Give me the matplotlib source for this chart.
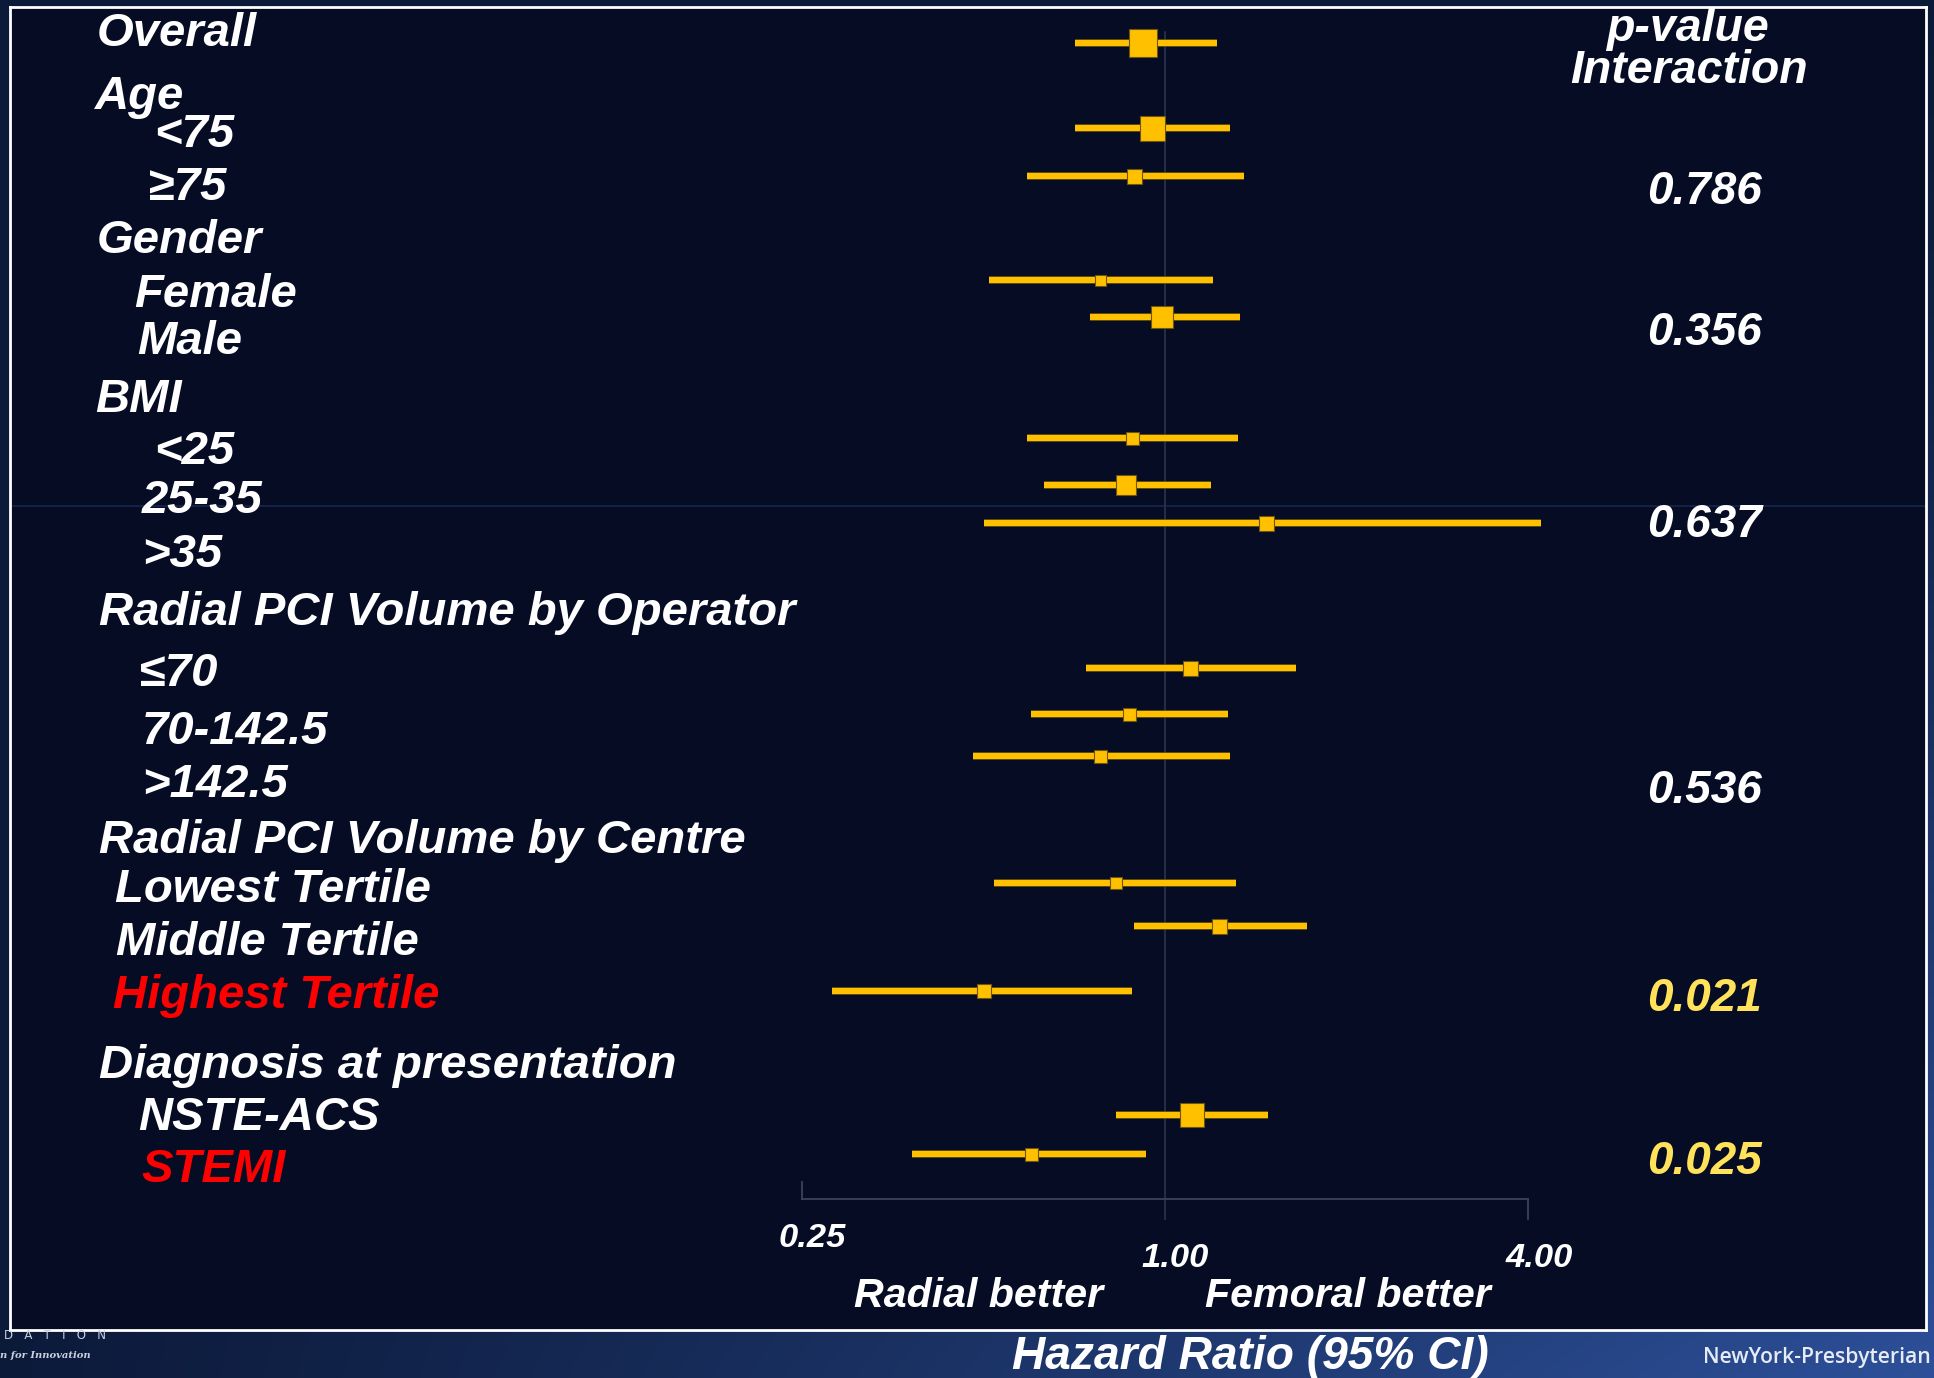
import numpy as np
import matplotlib
matplotlib.use("Agg")
import matplotlib.pyplot as plt
import matplotlib.patheffects as pe
from matplotlib.colors import to_rgb

# ---------------- data ----------------
group_headers = ["Overall", "Age", "Gender", "BMI", "Radial PCI Volume by Operator",
                 "Radial PCI Volume by Centre", "Diagnosis at presentation"]

subgroups = ["Overall", "<75", "≥75", "Female", "Male", "<25", "25-35", ">35",
             "≤70", "70-142.5", ">142.5", "Lowest Tertile", "Middle Tertile",
             "Highest Tertile", "NSTE-ACS", "STEMI"]
hazard_ratio = [0.92, 0.95, 0.89, 0.78, 0.99, 0.88, 0.86, 1.47,
                1.10, 0.87, 0.78, 0.83, 1.23, 0.50, 1.11, 0.60]
ci_lower = [0.71, 0.71, 0.59, 0.51, 0.75, 0.59, 0.63, 0.50,
            0.74, 0.60, 0.48, 0.52, 0.89, 0.28, 0.83, 0.38]
ci_upper = [1.22, 1.28, 1.35, 1.20, 1.33, 1.32, 1.19, 4.20,
            1.65, 1.27, 1.28, 1.31, 1.72, 0.88, 1.48, 0.93]

p_interaction = ["0.786", "0.356", "0.637", "0.536", "0.021", "0.025"]
p_highlight = [False, False, False, False, True, True]

x_ticks = [0.25, 1.0, 4.0]
x_tick_labels = ["0.25", "1.00", "4.00"]

# ---------------- layout (pixels in a 1934 x 1378 canvas) ----------------
W, H = 1934, 1378
FRAME = (10, 7, 1926, 1330)           # left, top, right, bottom
X_ONE, PX_PER_DOUBLING = 1165, 181.5  # where HR = 1 sits, and log2 spacing

# left-hand labels: text, x-left, baseline, colour
label_rows = [
    ("Overall", 97, 46, "white"),
    ("Age", 95, 109, "white"),
    ("<75", 154, 147, "white"),
    ("≥75", 148, 200, "white"),
    ("Gender", 97, 253, "white"),
    ("Female", 134, 307, "white"),
    ("Male", 137, 354, "white"),
    ("BMI", 95, 412, "white"),
    ("<25", 154, 464, "white"),
    ("25-35", 142, 513, "white"),
    (">35", 142, 567, "white"),
    ("Radial PCI Volume by Operator", 99, 625, "white"),
    ("≤70", 139, 686, "white"),
    ("70-142.5", 142, 744, "white"),
    (">142.5", 142, 797, "white"),
    ("Radial PCI Volume by Centre", 99, 853, "white"),
    ("Lowest Tertile", 115, 902, "white"),
    ("Middle Tertile", 116, 955, "white"),
    ("Highest Tertile", 113, 1008, "red"),
    ("Diagnosis at presentation", 99, 1078, "white"),
    ("NSTE-ACS", 138, 1130, "white"),
    ("STEMI", 141, 1182, "red"),
]

# vertical position of each estimate row and its box size (px)
marker_y = [43, 128, 176, 280, 317, 438, 485, 523,
            668, 714, 756, 883, 926, 991, 1115, 1154]
box_px = [28, 25, 15, 11, 23, 13, 20, 15,
          15, 13, 13, 12, 15, 14, 24, 13]

p_baseline = [204, 345, 537, 803, 1011, 1174]

GOLD = "#FFC000"
GOLD_EDGE = "#6e5612"
BG = "#050c24"
FONT = "Liberation Sans"

fig = plt.figure(figsize=(W / 100, H / 100), dpi=100)


def fx(x):
    return x / W


def fy(y):
    return 1 - y / H


# ---------------- slide background gradient ----------------
bg = fig.add_axes([0, 0, 1, 1], zorder=0)
gx, gy = np.meshgrid(np.linspace(0, 1, 400), np.linspace(0, 1, 300))
t = np.clip(gx ** 1.1 * gy ** 1.4, 0, 1)[..., None]
dark = np.array(to_rgb("#0c1a3a"))
light = np.array(to_rgb("#2d5099"))
bg.imshow(dark + (light - dark) * t, aspect="auto", extent=[0, 1, 0, 1],
          origin="upper", interpolation="bilinear")
bg.set_axis_off()

# ---------------- forest plot panel ----------------
L, T, R, B = FRAME
ax = fig.add_axes([fx(L), fy(B), fx(R) - fx(L), fy(T) - fy(B)], zorder=1)
ax.set_facecolor(BG)
ax.set_xscale("log", base=2)
ax.set_xlim(2 ** ((L - X_ONE) / PX_PER_DOUBLING), 2 ** ((R - X_ONE) / PX_PER_DOUBLING))
ax.set_ylim(B, T)
ax.set_xticks([])
ax.set_yticks([])
ax.minorticks_off()
for s in ax.spines.values():
    s.set_color("white")
    s.set_linewidth(2.0)

# faint horizontal rule across the panel
ax.axhline(506, color="#15264d", lw=1.2, zorder=1)

# reference line at HR = 1
ax.plot([1, 1], [32, 1219], color="#2b3450", lw=1.2, zorder=2)

# x-axis line and ticks
axis_y = 1199
ax.plot([x_ticks[0], x_ticks[-1]], [axis_y, axis_y], color="#3b4358", lw=1.3, zorder=2)
ax.plot([x_ticks[0], x_ticks[0]], [1182, axis_y], color="#3b4358", lw=1.3, zorder=2)
ax.plot([x_ticks[-1], x_ticks[-1]], [axis_y, 1219], color="#3b4358", lw=1.3, zorder=2)

# confidence intervals and point estimates
stroke = [pe.Stroke(linewidth=5.4, foreground=GOLD_EDGE), pe.Normal()]
for lo, hi, hr, y, s in zip(ci_lower, ci_upper, hazard_ratio, marker_y, box_px):
    ax.plot([lo, hi], [y, y], color=GOLD, lw=4.4, solid_capstyle="butt",
            path_effects=stroke, zorder=3)
    ax.plot([hr], [y], marker="s", ms=s * 0.72, mfc=GOLD, mec=GOLD_EDGE,
            mew=0.8, ls="none", zorder=4)

# ---------------- text ----------------
txt = dict(family=FONT, weight="bold", style="italic")

for text, x, base, col in label_rows:
    fig.text(fx(x), fy(base), text, color=col, fontsize=34, ha="left",
             va="baseline", zorder=5, **txt)

fig.text(fx(1687), fy(41), "p-value", color="white", fontsize=33.5,
         ha="center", va="baseline", **txt)
fig.text(fx(1689), fy(83), "Interaction", color="white", fontsize=33.5,
         ha="center", va="baseline", **txt)
for p, base, hl in zip(p_interaction, p_baseline, p_highlight):
    fig.text(fx(1704), fy(base), p, color="#FFE15A" if hl else "white",
             fontsize=33, ha="center", va="baseline", **txt)

# tick labels (staggered as on the slide)
tick_label_pos = [(812, 1247), (1175, 1267), (1539, 1267)]
for lab, (x, base) in zip(x_tick_labels, tick_label_pos):
    fig.text(fx(x), fy(base), lab, color="white", fontsize=24.8,
             ha="center", va="baseline", **txt)

fig.text(fx(979), fy(1307), "Radial better", color="white", fontsize=29.6,
         ha="center", va="baseline", **txt)
fig.text(fx(1348), fy(1307), "Femoral better", color="white", fontsize=29.6,
         ha="center", va="baseline", **txt)

# slide footer
fig.text(fx(1250), fy(1369), "Hazard Ratio (95% CI)", color="white",
         fontsize=33.2, ha="center", va="baseline", **txt)
fig.text(fx(1703), fy(1363), "NewYork-Presbyterian", color="#e6ebf5",
         fontsize=15.2, family="Open Sans", weight="semibold",
         ha="left", va="baseline")
fig.text(fx(4), fy(1339), "D   A   T   I   O   N", color="#c9d0e0", fontsize=8.5,
         family="DejaVu Sans", ha="left", va="baseline")
fig.text(fx(0), fy(1358), "n for Innovation", color="#c9d0e0", fontsize=7.2,
         family="DejaVu Serif", weight="bold", style="italic",
         ha="left", va="baseline")

fig.savefig("out.png", dpi=100, facecolor=BG)
